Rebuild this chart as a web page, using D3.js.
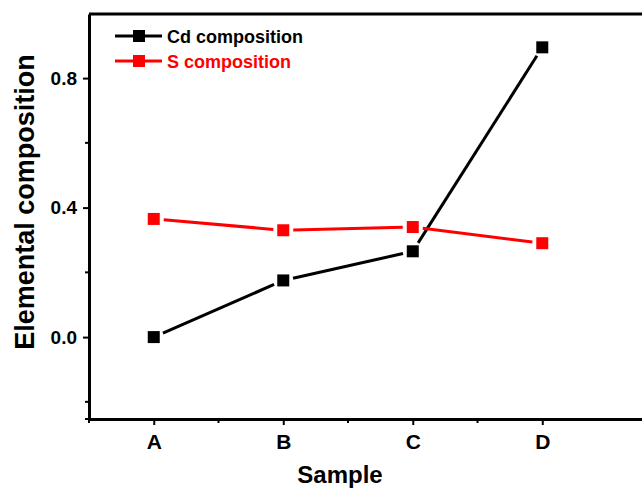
<!DOCTYPE html>
<html>
<head>
<meta charset="utf-8">
<script src="https://cdn.jsdelivr.net/npm/d3@7"></script>
<style>
  body { margin: 0; background: #fff; }
  text { font-family: "Liberation Sans", Arial, sans-serif; font-weight: bold; }
</style>
</head>
<body>
<svg id="chart"></svg>
<script>
// data
var samples = ["A", "B", "C", "D"];
var cdValues = [0.0, 0.175, 0.265, 0.895];
var sValues = [0.365, 0.33, 0.34, 0.29];
var yTicks = [0.0, 0.4, 0.8];
var yMinorTicks = [-0.2, 0.2, 0.6];

var W = 642, H = 489;
var plotLeft = 89, plotTop = 14, plotBottom = 419, plotRight = 642;

var svg = d3.select("#chart").attr("width", W).attr("height", H);

// x is positional index, like the original Origin plot
var x = d3.scaleLinear().domain([-0.5, 3.77]).range([plotLeft, plotRight]);
var y = d3.scaleLinear().domain([-0.253, 0.998]).range([plotBottom, plotTop]);

// frame: top line
svg.append("line")
    .attr("x1", plotLeft).attr("x2", plotRight)
    .attr("y1", plotTop).attr("y2", plotTop)
    .attr("stroke", "#000").attr("stroke-width", 3);

// Y axis
var yAxis = svg.append("g")
    .attr("transform", "translate(" + plotLeft + ",0)")
    .call(d3.axisLeft(y).tickValues(yTicks).tickFormat(d3.format(".1f")).tickSize(6).tickSizeOuter(0));
yAxis.select(".domain").attr("stroke-width", 3);
yAxis.selectAll(".tick line").attr("stroke-width", 2);
yAxis.selectAll(".tick text").style("font-size", "19px").attr("x", -12);

svg.append("g")
    .attr("transform", "translate(" + plotLeft + ",0)")
    .selectAll("line")
    .data(yMinorTicks.concat([y.domain()[0]]))
    .enter().append("line")
    .attr("x1", -4).attr("x2", 0)
    .attr("y1", function(d) { return y(d); })
    .attr("y2", function(d) { return y(d); })
    .attr("stroke", "#000").attr("stroke-width", 2);

// X axis
var xAxis = svg.append("g")
    .attr("transform", "translate(0," + plotBottom + ")")
    .call(d3.axisBottom(x).tickValues([0, 1, 2, 3]).tickFormat(function(i) { return samples[i]; }).tickSize(6).tickSizeOuter(0));
xAxis.select(".domain").attr("stroke-width", 3);
xAxis.selectAll(".tick line").attr("stroke-width", 2);
xAxis.selectAll(".tick text").style("font-size", "21px").attr("y", 15);

svg.append("g")
    .attr("transform", "translate(0," + plotBottom + ")")
    .selectAll("line")
    .data([-0.5, 0.5, 1.5, 2.5])
    .enter().append("line")
    .attr("x1", function(d) { return x(d); })
    .attr("x2", function(d) { return x(d); })
    .attr("y1", 0).attr("y2", 4)
    .attr("stroke", "#000").attr("stroke-width", 2);

// axis titles
svg.append("text")
    .attr("transform", "translate(34," + 202 + ") rotate(-90)")
    .attr("text-anchor", "middle")
    .style("font-size", "27px")
    .text("Elemental composition");

svg.append("text")
    .attr("x", 340).attr("y", 483)
    .attr("text-anchor", "middle")
    .style("font-size", "24px")
    .text("Sample");

// series, line segments stop short of the markers
var series = [
  {name: "Cd composition", values: cdValues, colour: "#000"},
  {name: "S composition", values: sValues, colour: "#ff0000"}
];
var gap = 10;

series.forEach(function(s) {
  var g = svg.append("g");
  for (var i = 0; i < s.values.length - 1; i++) {
    var x1 = x(i), y1 = y(s.values[i]), x2 = x(i + 1), y2 = y(s.values[i + 1]);
    var len = Math.sqrt((x2 - x1) * (x2 - x1) + (y2 - y1) * (y2 - y1));
    var ux = (x2 - x1) / len, uy = (y2 - y1) / len;
    g.append("line")
        .attr("x1", x1 + ux * gap).attr("y1", y1 + uy * gap)
        .attr("x2", x2 - ux * gap).attr("y2", y2 - uy * gap)
        .attr("stroke", s.colour).attr("stroke-width", 3);
  }
  g.selectAll("rect")
      .data(s.values)
      .enter().append("rect")
      .attr("x", function(d, i) { return x(i) - 6; })
      .attr("y", function(d) { return y(d) - 6; })
      .attr("width", 12).attr("height", 12)
      .attr("fill", s.colour);
});

// legend
var legend = svg.append("g").attr("transform", "translate(115,36)");
series.forEach(function(s, i) {
  var row = legend.append("g").attr("transform", "translate(0," + (i * 25) + ")");
  row.append("line").attr("x1", 0).attr("x2", 47).attr("y1", 0).attr("y2", 0)
      .attr("stroke", s.colour).attr("stroke-width", 3);
  row.append("rect").attr("x", 18).attr("y", -6).attr("width", 12).attr("height", 12)
      .attr("fill", s.colour);
  row.append("text").attr("x", 52).attr("y", 7)
      .style("font-size", "18px")
      .attr("fill", s.colour)
      .text(s.name);
});
</script>
</body>
</html>
